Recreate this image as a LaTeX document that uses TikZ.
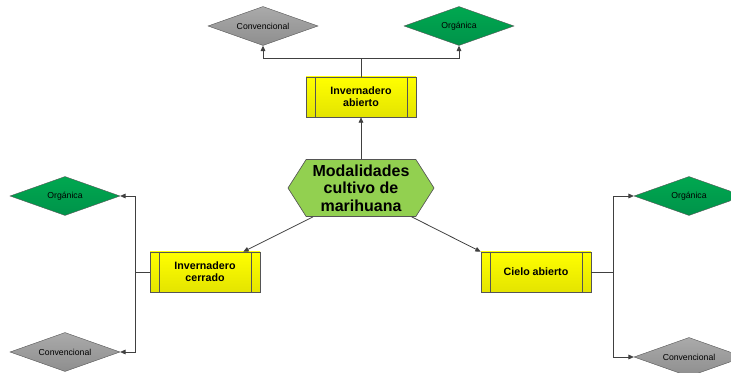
\documentclass[tikz,border=0pt]{standalone}
\usepackage{fontspec}
\setmainfont{Liberation Sans}
\usetikzlibrary{arrows.meta}
\usetikzlibrary{positioning}
\usetikzlibrary{shapes.geometric}
\usetikzlibrary{shapes.symbols}

\definecolor{linea}{HTML}{404040}
\definecolor{borde}{HTML}{555555}
\definecolor{verdeA}{HTML}{00A850}
\definecolor{verdeB}{HTML}{00934A}
\definecolor{grisA}{HTML}{AAAAAA}
\definecolor{grisB}{HTML}{8E8E8E}
\definecolor{amarA}{HTML}{FFFF00}
\definecolor{amarB}{HTML}{E4E400}
\definecolor{hexa}{HTML}{92D050}

\begin{document}
\begin{tikzpicture}[x=0.75pt,y=-0.75pt,>={Triangle[length=4pt,width=3.5pt]},
  rombo/.style={diamond,aspect=2.8,inner sep=0pt,minimum width=82.5pt,minimum height=29.25pt,draw=borde,line width=0.3pt,font=\fontsize{6.5}{7}\selectfont},
  organica/.style={rombo,top color=verdeA,bottom color=verdeB},
  convencional/.style={rombo,top color=grisA,bottom color=grisB},
  caja/.style={rectangle,draw=borde,line width=0.5pt,top color=amarA,bottom color=amarB,minimum width=82.5pt,minimum height=30pt,align=center,font=\fontsize{8}{9}\selectfont\bfseries,
    path picture={\draw[borde,line width=0.5pt] ([xshift=6.75pt]path picture bounding box.north west) -- ([xshift=6.75pt]path picture bounding box.south west);
      \draw[borde,line width=0.5pt] ([xshift=-6.75pt]path picture bounding box.north east) -- ([xshift=-6.75pt]path picture bounding box.south east);}},
  conector/.style={draw=linea,line width=0.6pt}]
\useasboundingbox (0,0) rectangle (731,373);
\clip (0,0) rectangle (731,373);
% nodo central
\node[signal,signal to=east and west,signal pointer angle=115,draw=borde,line width=0.5pt,fill=hexa,minimum width=109.5pt,minimum height=42.75pt,inner sep=0pt,align=center,font=\fontsize{12}{13}\selectfont\bfseries] (centro) at (361,188) {Modalidades\\cultivo de\\marihuana};
% modalidades
\node[caja] (abierto) at (361,97) {Invernadero\\abierto};
\node[caja] (cerrado) at (205,272) {Invernadero\\cerrado};
\node[caja] (cielo) at (536,272) {Cielo abierto};
% tipos
\node[convencional] (convT) at (263,26) {Convencional};
\node[organica] (orgT) at (459,26) {Orgánica};
\node[organica] (orgL) at (65,196) {Orgánica};
\node[convencional] (convL) at (65,352) {Convencional};
\node[organica] (orgR) at (689,196) {Orgánica};
\node[convencional] (convR) at (689,357) {Convencional};
% conectores
\draw[conector,->] (centro.north) -- (abierto.south);
\draw[conector,->] ([xshift=-36pt]centro.south) -- ([xshift=-12.75pt]cerrado.north east);
\draw[conector,->] ([xshift=38pt]centro.south) -- (cielo.north west);
\draw[conector,->] (abierto.north) -- ++(0,-18) coordinate (ramaT) -| (convT.south);
\draw[conector,->] (ramaT) -| (orgT.south);
\draw[conector,->] (cerrado.west) -- ++(-14,0) coordinate (ramaL) |- (orgL.east);
\draw[conector,->] (ramaL) |- (convL.east);
\draw[conector,->] (cielo.east) -- ++(22,0) coordinate (ramaR) |- (orgR.west);
\draw[conector,->] (ramaR) |- (convR.west);
\end{tikzpicture}
\end{document}
